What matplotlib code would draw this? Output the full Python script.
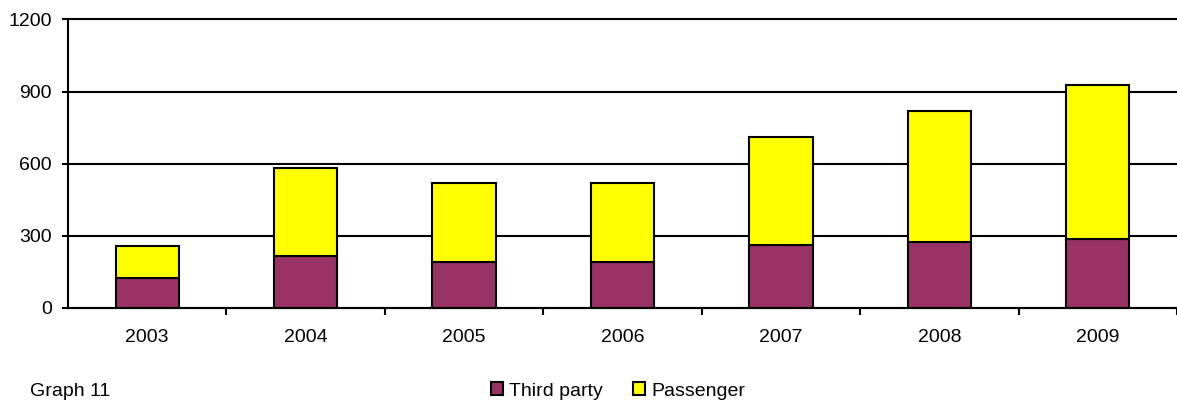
import numpy as np
from matplotlib import pyplot as plt

# Values
YEARS: list[str] = ["2003", "2004", "2005", "2006", "2007", "2008", "2009"]
THIRD_PARTY: list[float] = [125, 218, 190, 190, 262, 273, 286]
PASSENGER: list[float] = [134, 363, 329, 329, 449, 546, 642]
Y_TICKS: list[int] = [0, 300, 600, 900, 1200]

plt.rcParams["font.family"] = ["Liberation Sans", "DejaVu Sans"]


def main() -> None:
    fig = plt.figure(figsize=(11.77, 4.01), dpi=100)
    # axes box in figure fractions (pixels measured on the reference)
    ax = fig.add_axes([68 / 1177, 1 - 308 / 401, (1177 - 68) / 1177, (308 - 19.5) / 401])

    x = np.arange(len(YEARS))
    ax.bar(x, THIRD_PARTY, width=0.4, color="#993366", edgecolor="black",
           linewidth=1.5, label="Third party", zorder=3)
    ax.bar(x, PASSENGER, width=0.4, bottom=THIRD_PARTY, color="#FFFF00",
           edgecolor="black", linewidth=1.5, label="Passenger", zorder=3)

    ax.set_ylim(0, 1200)
    ax.set_yticks(Y_TICKS)
    ax.set_xlim(-0.5, -0.5 + (1177 - 68) / 158.7)

    ax.set_xticks(x)
    ax.set_xticklabels(YEARS, fontsize=14)
    ax.set_xticks(np.arange(len(YEARS)) + 0.5, minor=True)
    ax.tick_params(axis="x", which="major", length=0, pad=15)
    ax.tick_params(axis="x", which="minor", length=5, width=1.5, direction="out")
    ax.tick_params(axis="y", length=4.5, width=1.5, labelsize=14, pad=7)

    ax.grid(True, axis="y", color="black", linewidth=1.5, zorder=0)
    # top gridline sits on the axes edge, so keep it from being clipped
    for line in ax.get_ygridlines():
        line.set_clip_on(False)
    ax.set_axisbelow(True)
    for side in ["top", "right"]:
        ax.spines[side].set_visible(False)
    for side in ["left", "bottom"]:
        ax.spines[side].set_linewidth(1.5)
        ax.spines[side].set_zorder(4)

    fig.legend(loc="center", bbox_to_anchor=(618 / 1177, 1 - 391 / 401), ncol=2,
               frameon=False, fontsize=14, handlelength=0.6, handleheight=0.6,
               handletextpad=0.3, columnspacing=1.6, borderpad=0)

    fig.text(30 / 1177, 1 - 400 / 401, "Graph 11", fontsize=14, va="bottom")

    fig.savefig("out.png", dpi=100)
    plt.close(fig)


if __name__ == "__main__":
    main()
